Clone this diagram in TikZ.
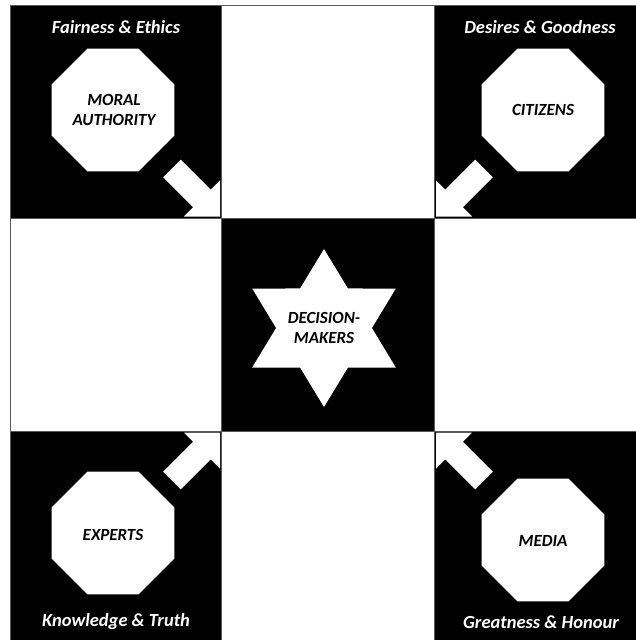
\documentclass[tikz,border=0pt]{standalone}
\usepackage{fontspec}
\setmainfont{Carlito}
\usetikzlibrary{shapes.geometric}
\begin{document}
\begin{tikzpicture}[x=1pt,y=-1pt,
 darkcell/.style={fill=black},
 lightcell/.style={fill=white},
 gridline/.style={draw=black!65, line width=0.9pt},
 octa/.style={regular polygon, regular polygon sides=8, minimum size=133pt, fill=white, inner sep=0pt},
 hexstar/.style={star, star points=6, star point ratio=1.732, minimum size=158pt, fill=white, inner sep=0pt},
 header/.style={text=white, font=\fontsize{18.5}{22}\selectfont\bfseries\itshape, inner sep=0pt},
 innertext/.style={text=black, font=\fontsize{17}{19.5}\selectfont\bfseries\itshape, align=center, inner sep=0pt},
 blockarrow/.style={fill=white}
]
\useasboundingbox (0,0) rectangle (635,640);
\fill[white] (0,0) rectangle (635,640);
% grid cells
\fill[darkcell]  (10,5) rectangle (221.5,218);
\fill[lightcell] (221.5,5) rectangle (434.5,218);
\fill[darkcell]  (434.5,5) rectangle (640,218);
\fill[lightcell] (10,218) rectangle (221.5,431);
\fill[darkcell]  (221.5,218) rectangle (434.5,431);
\fill[lightcell] (434.5,218) rectangle (640,431);
\fill[darkcell]  (10,431) rectangle (221.5,645);
\fill[lightcell] (221.5,431) rectangle (434.5,645);
\fill[darkcell]  (434.5,431) rectangle (640,645);
% corners of the centre cell (arrow tips)
\coordinate (ctl) at (220,216.5);
\coordinate (ctr) at (436,216.5);
\coordinate (cbl) at (220,432.5);
\coordinate (cbr) at (436,432.5);
% block arrows
\foreach \c/\r in {ctl/-45, ctr/-135, cbl/45, cbr/135}{
  \fill[blockarrow, shift={(\c)}, rotate=\r]
    (-68,-12.5) -- (-25.5,-12.5) -- (-25.5,-25.5) -- (0,0) -- (-25.5,25.5) -- (-25.5,12.5) -- (-68,12.5) -- cycle;
}
% grid lines
\draw[gridline] (640,5) -- (10,5) -- (10,645);
\draw[gridline] (221.5,5) -- (221.5,645);
\draw[gridline] (434.5,5) -- (434.5,645);
\draw[gridline] (10,218) -- (640,218);
\draw[gridline] (10,431) -- (640,431);
% octagons
\node[octa] (moral) at (113,110) {};
\node[octa] (citizens) at (543,110) {};
\node[octa] (experts) at (113,533) {};
\node[octa] (media) at (543,540) {};
\node[innertext] (moralt) at (114,110) {MORAL\\AUTHORITY};
\node[innertext] (citizenst) at (543,110) {CITIZENS};
\node[innertext] (expertst) at (113,535) {EXPERTS};
\node[innertext] (mediat) at (543,541) {MEDIA};
% star
\node[hexstar, xscale=1.05, transform shape] (dmstar) at (324,328) {};
\node[innertext] (dm) at (324,328) {DECISION-\\MAKERS};
% headers
\node[header] (h1) at (116,27) {Fairness \& Ethics};
\node[header] (h2) at (540,27) {Desires \& Goodness};
\node[header] (h3) at (116,622) {Knowledge \& Truth};
\node[header] (h4) at (541,622) {Greatness \& Honour};
\end{tikzpicture}
\end{document}
